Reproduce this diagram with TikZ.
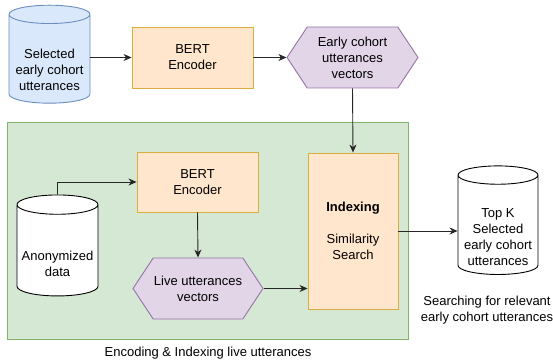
\documentclass[tikz,border=0pt]{standalone}
\usepackage{fontspec}
\setmainfont{Liberation Sans}
\usepackage{tikz}
\usetikzlibrary{shapes.geometric, shapes.symbols, positioning, arrows.meta, calc}
\definecolor{blueFill}{HTML}{DAE8FC}
\definecolor{blueLine}{HTML}{6C8EBF}
\definecolor{orangeFill}{HTML}{FFE6CC}
\definecolor{orangeLine}{HTML}{D9AE3F}
\definecolor{purpleFill}{HTML}{E1D5E7}
\definecolor{purpleLine}{HTML}{9673A6}
\definecolor{greenFill}{HTML}{D5E8D4}
\definecolor{greenLine}{HTML}{82B366}
\tikzstyle{txt}=[font=\fontsize{13}{16}\selectfont, align=center, inner sep=0pt]
\tikzstyle{dbStore}=[txt, cylinder, shape border rotate=90, aspect=0.27, draw=black,
  line width=0.9pt, minimum width=81pt]
\tikzstyle{encBox}=[txt, rectangle, draw=orangeLine, fill=orangeFill, line width=0.9pt]
\tikzstyle{vecHex}=[txt, signal, signal to=west and east, signal pointer angle=113,
  draw=purpleLine, fill=purpleFill, line width=0.9pt, minimum height=61pt]
\tikzstyle{arrow}=[-{Stealth[length=8pt, width=7pt, inset=2.5pt]}, line width=0.9pt, draw=black!85]

\begin{document}
\begin{tikzpicture}[x=1pt, y=-1pt]
      \useasboundingbox (0,0) rectangle (553,363);
      % live encoding area
      \node[draw=greenLine, fill=greenFill, line width=0.9pt, minimum width=401pt,
        minimum height=217pt, inner sep=0pt] (liveArea) at (207.5,230.5) {};

      \node[dbStore, fill=blueFill, draw=blueLine, minimum height=98pt] (selData) at (49.5,59)
        {\\[15.5pt]Selected\\early cohort\\utterances};
      \node[encBox, minimum width=121pt, minimum height=61pt] (bertTop) at (192.5,57.5)
        {BERT\\Encoder};
      \node[vecHex, minimum width=131pt] (earlyVec) at (352.5,57.5)
        {Early cohort\\utterances\\vectors};

      \node[dbStore, fill=white, minimum height=101pt] (anonData) at (57.5,250.5)
        {\\[20.5pt]Anonymized\\data};
      \node[encBox, minimum width=121pt, minimum height=60pt] (bertLive) at (197.5,182)
        {BERT\\Encoder};
      \node[vecHex, minimum width=130pt] (liveVec) at (198,288.5)
        {Live utterances\\vectors};
      \node[encBox, minimum width=90pt, minimum height=156pt] (indexer) at (353,231)
        {\textbf{Indexing}\\[16pt]Similarity\\Search};
      \node[dbStore, fill=white, minimum width=80pt, minimum height=106pt] (topK) at (498,225)
        {\\[16.5pt]Top K\\Selected\\early cohort\\utterances};

      \node[txt] (searchLbl) at (487,310) {Searching for relevant\\early cohort utterances};
      \node[txt] (liveLbl) at (208,353) {Encoding \& Indexing live utterances};

      \draw[arrow] (selData.east |- bertTop.west) -- (bertTop.west);
      \draw[arrow] (bertTop) -- (earlyVec);
      \draw[arrow] (earlyVec.south) -- (indexer.north);
      \draw[arrow] (anonData.north) |- (bertLive.west);
      \draw[arrow] (bertLive.south) -- (liveVec.north);
      \draw[arrow] (liveVec.east) -- (liveVec.east -| indexer.west);
      \draw[arrow] (indexer.east) -- (indexer.east -| topK.west);
    \end{tikzpicture}
\end{document}
